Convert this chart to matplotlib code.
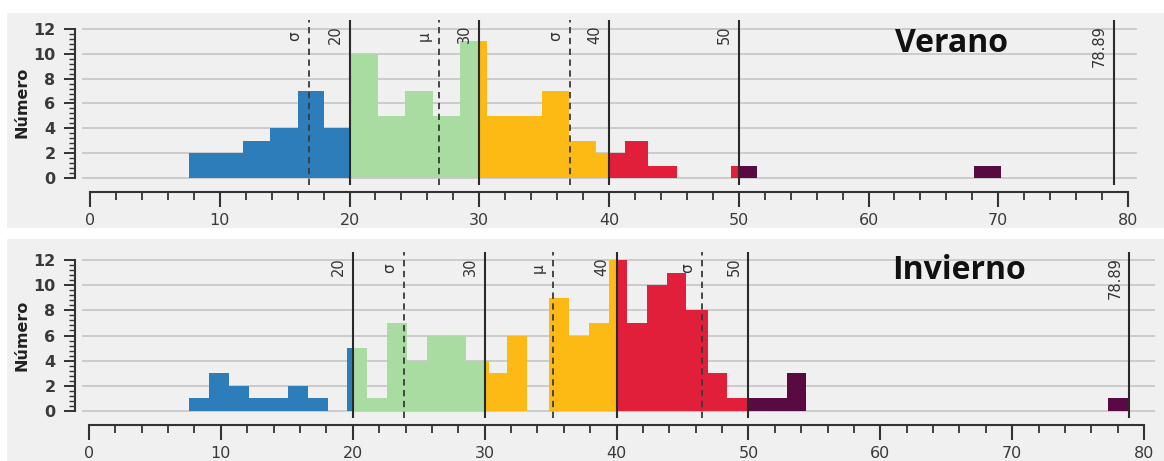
import matplotlib
matplotlib.use("Agg")
import matplotlib.pyplot as plt
from matplotlib.patches import Rectangle
from matplotlib.ticker import MultipleLocator, FixedLocator

# ---------------- data ----------------
class_colors = ["#2E7DBB", "#A9DCA1", "#FDB914", "#E11F3B", "#5A0A43"]
class_bounds = [20, 30, 40, 50, 78.89]
bound_labels = ["20", "30", "40", "50", "78.89"]

# Verano: bar left edge, right edge, count, class index
verano_left = [7.6, 9.7, 11.8, 13.9, 16.0, 18.0,
               20.0, 22.2, 24.3, 26.4, 28.5,
               30.0, 30.6, 32.7, 34.8, 36.9, 39.0,
               40.0, 41.2, 43.0, 49.4,
               50.0, 68.1]
verano_right = [9.7, 11.8, 13.9, 16.0, 18.0, 20.0,
                22.2, 24.3, 26.4, 28.5, 30.0,
                30.6, 32.7, 34.8, 36.9, 39.0, 40.0,
                41.2, 43.0, 45.2, 50.0,
                51.4, 70.2]
verano_count = [2, 2, 3, 4, 7, 4,
                10, 5, 7, 5, 11,
                11, 5, 5, 7, 3, 2,
                2, 3, 1, 1,
                1, 1]
verano_class = [0, 0, 0, 0, 0, 0,
                1, 1, 1, 1, 1,
                2, 2, 2, 2, 2, 2,
                3, 3, 3, 3,
                4, 4]
verano_mu = 26.9
verano_sigma = [16.9, 37.0]

# Invierno
invierno_left = [7.6, 9.1, 10.6, 12.1, 13.6, 15.1, 16.6, 19.6,
                 20.0, 21.1, 22.6, 24.1, 25.6, 27.1, 28.6,
                 30.0, 30.3, 31.7, 34.9, 36.4, 37.9, 39.4,
                 40.0, 40.8, 42.3, 43.8, 45.3, 46.9, 48.4,
                 50.0, 51.4, 52.9, 77.3]
invierno_right = [9.1, 10.6, 12.1, 13.6, 15.1, 16.6, 18.1, 20.0,
                  21.1, 22.6, 24.1, 25.6, 27.1, 28.6, 30.0,
                  30.3, 31.7, 33.2, 36.4, 37.9, 39.4, 40.0,
                  40.8, 42.3, 43.8, 45.3, 46.9, 48.4, 50.0,
                  51.4, 52.9, 54.4, 78.89]
invierno_count = [1, 3, 2, 1, 1, 2, 1, 5,
                  5, 1, 7, 4, 6, 6, 4,
                  4, 3, 6, 9, 6, 7, 12,
                  12, 7, 10, 11, 8, 3, 1,
                  1, 1, 3, 1]
invierno_class = [0, 0, 0, 0, 0, 0, 0, 0,
                  1, 1, 1, 1, 1, 1, 1,
                  2, 2, 2, 2, 2, 2, 2,
                  3, 3, 3, 3, 3, 3, 3,
                  4, 4, 4, 4]
invierno_mu = 35.2
invierno_sigma = [23.9, 46.5]

titles = ["Verano", "Invierno"]
title_pos = [(66.4, 10.8), (66.0, 11.15)]
ylabel = "Número"
y_ticks = [0, 2, 4, 6, 8, 10, 12]
x_ticks = [0, 10, 20, 30, 40, 50, 60, 70, 80]

# ---------------- figure ----------------
W, H = 1164, 461
fig = plt.figure(figsize=(W / 100, H / 100), dpi=100)
fig.patch.set_facecolor("white")

def fx(px):
    return px / W

def fy(py):
    return 1 - py / H

# panel backgrounds
fig.patches.append(Rectangle((fx(7), fy(228)), fx(1164 - 7), (228 - 13) / H,
                             transform=fig.transFigure, facecolor="#F0F0F0",
                             edgecolor="none", zorder=-10))
fig.patches.append(Rectangle((fx(7), 0), fx(1164 - 7), (461 - 239) / H,
                             transform=fig.transFigure, facecolor="#F0F0F0",
                             edgecolor="none", zorder=-10))

# axes rectangles [left, top, right, bottom] in pixels
ax_px = [(82, 20, 1137, 185), (82, 252, 1155, 418)]
xlims = [(-0.62, 80.69), (-0.53, 80.83)]
ylims = [(-0.56, 12.72), (-0.56, 12.64)]

panels = [
    (verano_left, verano_right, verano_count, verano_class, verano_mu, verano_sigma),
    (invierno_left, invierno_right, invierno_count, invierno_class, invierno_mu, invierno_sigma),
]

txt_color = "#333333"
minor_y = [k * 0.4 for k in range(0, 31)]

for i, (left, right, count, cls, mu, sig) in enumerate(panels):
    l, t, r, b = ax_px[i]
    ax = fig.add_axes([fx(l), fy(b), (r - l) / W, (b - t) / H])
    ax.set_zorder(1)
    ax.set_facecolor("none")
    ax.set_xlim(*xlims[i])
    ax.set_ylim(*ylims[i])
    ax.set_axisbelow(True)

    widths = [rr - ll for ll, rr in zip(left, right)]
    colors = [class_colors[c] for c in cls]
    ax.bar(left, count, width=widths, align="edge", color=colors,
           edgecolor="none", linewidth=0, zorder=2)

    # grid
    for yv in y_ticks:
        ax.axhline(yv, color="#C9C9C9", lw=1.3, zorder=1)

    # class boundary lines
    for xb, lab in zip(class_bounds, bound_labels):
        ax.axvline(xb, color="#2A2A2A", lw=1.5, zorder=3)
        ax.annotate(lab, xy=(xb, ylims[i][1]), xytext=(-7, -5),
                    textcoords="offset pixels", rotation=90, ha="right",
                    va="top", fontsize=10.5, color=txt_color, zorder=4)
    # mean / sigma lines
    for xs, lab in [(sig[0], "σ"), (mu, "μ"), (sig[1], "σ")]:
        ax.axvline(xs, color="#3A3A3A", lw=1.3, ls=(0, (3.5, 2.5)), zorder=3)
        ax.annotate(lab, xy=(xs, ylims[i][1]), xytext=(-7, -11),
                    textcoords="offset pixels", rotation=90, ha="right",
                    va="top", fontsize=11, color=txt_color, zorder=4)

    ax.text(title_pos[i][0], title_pos[i][1], titles[i], ha="center",
            va="center", fontsize=23, fontweight="bold",
            family=["Open Sans", "DejaVu Sans"], color="#111111", zorder=5)

    # spines
    for s in ["top", "right"]:
        ax.spines[s].set_visible(False)
    ax.spines["left"].set_position(("outward", 5))
    ax.spines["bottom"].set_position(("outward", 5))
    ax.spines["left"].set_bounds(0, 12)
    ax.spines["bottom"].set_bounds(0, 80)
    for s in ["left", "bottom"]:
        ax.spines[s].set_color("#333333")
        ax.spines[s].set_linewidth(1.5)

    ax.set_yticks(y_ticks)
    ax.yaxis.set_minor_locator(FixedLocator(minor_y))
    ax.set_xticks(x_ticks)
    ax.xaxis.set_minor_locator(MultipleLocator(2))
    ax.tick_params(axis="y", which="major", length=8, width=1.4,
                   color="#333333", labelsize=11.5, labelcolor="#3A3A3A", pad=6)
    ax.tick_params(axis="y", which="minor", length=4, width=1.0, color="#333333")
    ax.tick_params(axis="x", which="major", length=11, width=1.5,
                   color="#333333", labelsize=11.5, labelcolor="#3A3A3A", pad=4)
    ax.tick_params(axis="x", which="minor", length=6, width=1.3, color="#333333")
    for lab in ax.get_yticklabels():
        lab.set_fontweight("bold")

    ax.set_ylabel(ylabel, fontsize=11.5, fontweight="bold", color="#222222",
                  labelpad=3)

fig.savefig("out.png", dpi=100, facecolor=fig.get_facecolor())
